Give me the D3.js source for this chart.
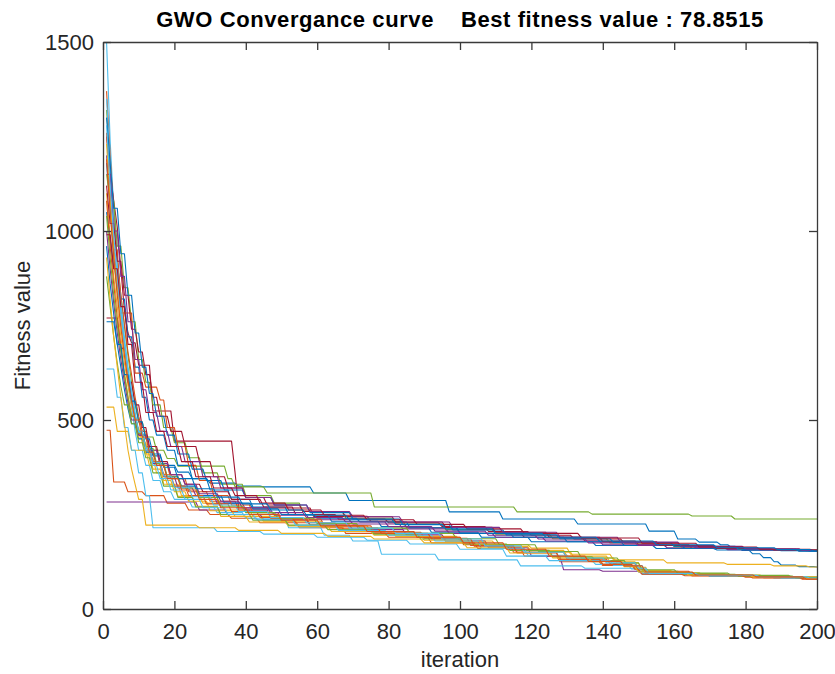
<!DOCTYPE html>
<html lang="en">
<head>
  <meta charset="UTF-8">
  <title>GWO Convergance curve</title>
  <script src="https://d3js.org/d3.v7.min.js"></script>
  <style>
    body { margin: 0; background: #fff; font-family: Arial, "Liberation Sans", sans-serif; }
    .tick-label { font-size: 22px; fill: #262626; }
    .axis-label { font-size: 22px; fill: #262626; }
    .title { font-size: 22px; font-weight: bold; fill: #000; white-space: pre; letter-spacing: 0.6px; }
    .run { fill: none; stroke-width: 1.1; stroke-linejoin: round; }
  </style>
</head>
<body>
  <svg id="chart" width="835" height="674"></svg>

  <script>
    // ---- data: best-so-far fitness per run, as [iteration, value] change points ----
    const run01 = [[1,1180],[2,1060],[3,930],[4,840],[5,770],[6,700],[7,630],[8,560],[9,510],[10,470],[12,430],[14,405],[17,380],[21,362],[25,345],[30,333],[38,325],[45,323],[59,307],[69,287],[97,257],[112,238],[133,225],[153,206],[161,185],[167,177],[173,170],[176,163],[179,155],[182,146],[185,136],[188,125],[190,116],[195,112],[200,111]];
    const run02 = [[1,473],[3,336],[7,310],[12,300],[18,280],[24,262],[30,250],[36,240],[44,228],[55,215],[68,200],[80,190],[92,175],[105,160],[118,140],[128,125],[140,115],[150,105],[152,95],[165,88],[185,83],[195,81]];
    const run03 = [[1,1100],[2,990],[3,880],[4,800],[5,720],[6,650],[7,590],[8,530],[9,480],[11,440],[13,400],[15,360],[18,330],[22,300],[28,280],[34,262],[42,245],[50,232],[62,220],[75,205],[88,192],[100,180],[110,170],[120,161],[131,145],[143,130],[158,122],[175,118],[188,114],[198,111]];
    const run04 = [[1,283],[27,262],[35,250],[45,236],[58,222],[70,210],[85,196],[96,180],[108,162],[120,140],[129,104],[140,100],[151,93],[165,89],[180,86],[195,84]];
    const run05 = [[1,1320],[2,1180],[3,1030],[4,920],[5,830],[6,750],[7,670],[8,600],[9,540],[10,495],[12,455],[15,420],[18,398],[21,378],[35,345],[37,323],[46,307],[76,270],[116,257],[137,251],[165,246],[177,238]];
    const run06 = [[1,1500],[2,1240],[3,1060],[4,920],[5,800],[6,700],[7,610],[8,540],[9,470],[10,420],[12,380],[14,340],[17,310],[20,290],[25,270],[32,255],[40,240],[52,215],[62,195],[70,180],[78,145],[94,130],[117,114],[135,108],[150,98],[152,92],[170,86],[188,82]];
    const run07 = [[1,1250],[2,1160],[3,1080],[4,1010],[5,900],[6,790],[7,730],[8,704],[10,645],[14,524],[20,444],[37,360],[38,267],[59,245],[75,232],[85,215],[100,200],[118,190],[135,180],[150,170],[165,160],[180,156],[195,154]];
    const run08 = [[1,1050],[2,980],[3,900],[5,820],[7,720],[9,640],[11,560],[13,500],[15,460],[18,420],[21,380],[25,345],[30,315],[36,290],[42,270],[52,250],[64,232],[78,218],[92,203],[106,190],[120,178],[138,168],[155,160],[172,156],[190,154]];
    const run09 = [[1,1370],[2,1200],[3,1050],[4,930],[5,830],[6,750],[7,680],[8,620],[9,560],[10,510],[11,470],[13,420],[16,380],[19,345],[24,310],[30,285],[38,262],[47,240],[58,222],[72,205],[88,190],[101,170],[115,150],[128,130],[140,118],[149,108],[152,94],[165,88],[182,82],[196,79]];
    const run10 = [[1,534],[4,470],[8,420],[13,380],[17,330],[21,298],[26,272],[33,245],[41,230],[52,220],[64,205],[76,195],[90,182],[104,170],[118,155],[130,140],[142,125],[150,110],[153,96],[168,90],[185,85]];
    const run11 = [[1,1200],[2,1080],[3,960],[4,860],[5,770],[6,690],[7,620],[8,560],[9,505],[10,460],[12,420],[14,385],[17,350],[21,320],[26,300],[32,280],[40,262],[48,248],[58,236],[70,225],[84,212],[97,200],[110,190],[124,180],[140,170],[158,162],[175,157],[192,155]];
    const run12 = [[1,1150],[2,1080],[4,960],[6,850],[8,760],[10,660],[12,600],[14,540],[17,480],[20,440],[24,400],[28,360],[33,330],[40,300],[48,280],[56,258],[68,240],[82,225],[96,210],[110,198],[126,186],[142,175],[160,165],[178,158],[194,156]];
    const run13 = [[1,635],[4,560],[6,480],[8,420],[10,360],[12,300],[14,215],[32,205],[45,198],[60,190],[74,182],[86,172],[100,158],[113,140],[125,128],[138,118],[148,106],[151,93],[170,87],[190,82]];
    const run14 = [[1,770],[5,690],[7,600],[9,540],[11,480],[13,430],[16,390],[19,355],[23,330],[28,310],[36,290],[45,270],[54,250],[66,238],[80,228],[95,218],[108,205],[120,195],[132,185],[146,175],[162,165],[180,158],[196,155]];
    const run15 = [[1,960],[2,860],[3,780],[4,700],[5,640],[6,580],[7,530],[8,490],[10,450],[12,415],[15,380],[18,350],[22,325],[27,300],[34,280],[42,265],[50,250],[60,240],[72,230],[86,215],[100,200],[115,190],[130,178],[146,168],[163,160],[180,156],[198,153]];
    const run16 = [[1,1260],[2,1100],[3,950],[5,783],[9,624],[12,587],[16,553],[18,480],[21,430],[24,380],[27,340],[31,300],[36,275],[42,255],[50,238],[62,220],[76,203],[90,187],[103,168],[116,150],[130,132],[142,120],[150,100],[165,91],[180,86],[196,82]];
    const run17 = [[1,1230],[2,1080],[3,950],[4,850],[5,760],[6,680],[7,610],[8,550],[9,500],[10,455],[12,410],[14,370],[17,340],[20,310],[24,285],[30,260],[37,245],[45,232],[55,218],[68,205],[82,192],[96,178],[108,165],[120,150],[132,135],[144,122],[151,102],[160,94],[175,88],[192,84]];
    const run18 = [[1,1000],[2,900],[3,810],[4,730],[5,660],[6,600],[7,545],[8,500],[10,460],[13,420],[16,385],[19,355],[23,330],[27,305],[33,285],[39,268],[47,255],[57,242],[68,230],[80,218],[93,206],[108,195],[122,185],[136,175],[150,168],[166,162],[184,157],[197,154]];
    const run19 = [[1,880],[2,800],[3,720],[4,650],[5,590],[6,540],[8,490],[10,440],[12,400],[14,360],[17,325],[21,295],[26,270],[33,250],[42,235],[52,222],[63,210],[76,198],[89,185],[101,172],[114,155],[126,138],[138,128],[147,114],[150,100],[162,92],[178,87],[194,83]];
    const run20 = [[1,1350],[2,1180],[3,1030],[4,910],[5,810],[6,720],[7,640],[8,580],[9,520],[10,470],[12,420],[14,380],[16,345],[19,315],[23,290],[28,268],[35,250],[43,236],[54,222],[66,208],[80,195],[93,180],[106,160],[119,142],[131,128],[143,115],[152,96],[166,89],[183,84],[197,80]];
    const run21 = [[1,1120],[2,1020],[4,920],[6,830],[8,740],[10,680],[12,620],[14,560],[16,510],[19,470],[23,430],[27,390],[31,350],[35,320],[40,295],[46,275],[56,258],[68,244],[82,230],[96,216],[110,203],[125,190],[140,178],[156,168],[172,160],[188,156]];
    const run22 = [[1,1300],[2,1180],[3,1060],[5,940],[7,830],[9,730],[11,640],[13,570],[15,510],[18,460],[21,410],[25,370],[29,340],[34,315],[40,295],[48,275],[58,255],[70,238],[84,223],[98,209],[113,196],[128,186],[143,176],[160,166],[178,158],[195,153]];
    const run23 = [[1,1080],[2,960],[3,860],[4,770],[5,690],[6,620],[7,560],[8,510],[10,465],[12,425],[14,390],[17,355],[20,325],[24,300],[29,278],[36,258],[44,242],[54,228],[66,214],[78,200],[92,186],[104,166],[116,148],[128,132],[140,118],[149,105],[151,92],[163,88],[180,84],[196,80]];
    const run24 = [[1,930],[2,820],[3,720],[4,640],[5,560],[6,490],[7,420],[8,370],[9,330],[10,290],[12,222],[27,215],[38,208],[50,200],[63,192],[76,185],[90,175],[102,162],[114,148],[126,135],[137,125],[146,112],[150,98],[164,90],[182,85],[197,81]];
    const run25 = [[1,1150],[3,1000],[5,880],[7,760],[9,660],[11,580],[13,520],[16,470],[19,430],[23,390],[28,350],[33,320],[40,295],[48,275],[58,258],[70,244],[84,230],[98,216],[112,203],[128,190],[145,177],[162,166],[180,159],[196,155]];
    const run26 = [[1,1040],[2,930],[3,830],[4,750],[5,680],[6,620],[7,560],[8,510],[10,465],[12,425],[15,385],[18,350],[22,320],[27,295],[33,272],[40,255],[49,240],[60,226],[72,214],[86,200],[99,186],[111,170],[122,152],[134,135],[145,122],[151,104],[161,95],[176,89],[193,84]];
    const run27 = [[1,1280],[2,1120],[3,990],[4,880],[5,780],[6,700],[7,630],[8,570],[9,515],[10,468],[12,425],[14,388],[17,352],[20,322],[25,297],[31,275],[38,258],[47,242],[57,228],[69,214],[82,200],[95,185],[107,167],[118,150],[130,135],[141,122],[150,108],[153,94],[167,89],[184,85],[198,82]];
    const run28 = [[1,990],[3,900],[5,800],[7,700],[9,600],[12,520],[15,470],[18,430],[22,390],[26,350],[31,320],[37,300],[44,280],[52,262],[62,248],[74,236],[88,224],[102,212],[118,200],[134,188],[151,174],[167,164],[184,158],[199,155]];
    const run29 = [[1,760],[4,700],[6,620],[8,550],[10,495],[12,450],[14,410],[17,375],[21,345],[26,318],[32,296],[39,278],[47,262],[57,248],[69,236],[82,224],[96,212],[110,200],[124,190],[139,180],[155,170],[172,162],[189,157],[199,154]];
    const run30 = [[1,1190],[2,1050],[3,930],[4,830],[5,745],[6,670],[7,605],[8,550],[9,500],[11,455],[13,415],[15,380],[18,345],[22,315],[27,290],[33,268],[41,250],[50,235],[61,220],[74,205],[88,190],[101,175],[113,158],[125,140],[136,126],[146,114],[152,98],[166,90],[183,85],[197,79]];

    const runs = [run01, run02, run03, run04, run05, run06, run07, run08, run09, run10,
                  run11, run12, run13, run14, run15, run16, run17, run18, run19, run20,
                  run21, run22, run23, run24, run25, run26, run27, run28, run29, run30];

    // MATLAB default line color order
    const lineColors = ["#0072BD", "#D95319", "#EDB120", "#7E2F8E", "#77AC30", "#4DBEEE", "#A2142F"];

    const xTicks = [0, 20, 40, 60, 80, 100, 120, 140, 160, 180, 200];
    const yTicks = [0, 500, 1000, 1500];
    const xDomain = [0, 200];
    const yDomain = [0, 1500];
    const bestFitness = "78.8515";

    // ---- layout ----
    const svg = d3.select("#chart");
    const plot = { left: 103, right: 817, top: 42, bottom: 609 };

    const x = d3.scaleLinear().domain(xDomain).range([plot.left, plot.right]);
    const y = d3.scaleLinear().domain(yDomain).range([plot.bottom, plot.top]);

    svg.append("clipPath").attr("id", "plot-clip")
      .append("rect")
      .attr("x", plot.left).attr("y", plot.top)
      .attr("width", plot.right - plot.left).attr("height", plot.bottom - plot.top);

    // MATLAB joins successive iterations with straight segments, so a drop
    // between two change points spans one iteration
    function toPolyline(run) {
      const pts = [];
      run.forEach(([it, v], k) => {
        if (k > 0) {
          const prev = run[k - 1];
          if (it - 1 > prev[0]) pts.push([it - 1, prev[1]]);
        }
        pts.push([it, v]);
      });
      const last = run[run.length - 1];
      if (last[0] < xDomain[1]) pts.push([xDomain[1], last[1]]);
      return pts;
    }

    const line = d3.line().x(d => x(d[0])).y(d => y(d[1]));

    svg.append("g")
      .attr("clip-path", "url(#plot-clip)")
      .selectAll("path")
      .data(runs)
      .enter().append("path")
      .attr("class", "run")
      .attr("stroke", (d, i) => lineColors[i % lineColors.length])
      .attr("d", d => line(toPolyline(d)));

    // ---- box axes with inward ticks (all four sides) ----
    const axisColor = "#3a3a3a";
    const tickLen = 8;

    const bottomAxis = d3.axisBottom(x).tickValues(xTicks).tickSizeInner(-tickLen).tickSizeOuter(0).tickFormat(d3.format("d")).tickPadding(14);
    const topAxis = d3.axisTop(x).tickValues(xTicks).tickSizeInner(-tickLen).tickSizeOuter(0).tickFormat("");
    const leftAxis = d3.axisLeft(y).tickValues(yTicks).tickSizeInner(-tickLen).tickSizeOuter(0).tickFormat(d3.format("d")).tickPadding(9);
    const rightAxis = d3.axisRight(y).tickValues(yTicks).tickSizeInner(-tickLen).tickSizeOuter(0).tickFormat("");

    function styleAxis(g) {
      g.select(".domain").attr("stroke", axisColor).attr("stroke-width", 1.3);
      g.selectAll(".tick line").attr("stroke", axisColor).attr("stroke-width", 1.3);
      g.selectAll(".tick text").attr("class", "tick-label").attr("fill", "#262626");
      g.attr("font-family", null).attr("font-size", null);
    }

    svg.append("g").attr("transform", `translate(0,${plot.bottom})`).call(bottomAxis).call(styleAxis);
    svg.append("g").attr("transform", `translate(0,${plot.top})`).call(topAxis).call(styleAxis);
    svg.append("g").attr("transform", `translate(${plot.left},0)`).call(leftAxis).call(styleAxis);
    svg.append("g").attr("transform", `translate(${plot.right},0)`).call(rightAxis).call(styleAxis);

    // ---- labels ----
    svg.append("text")
      .attr("class", "title")
      .attr("x", (plot.left + plot.right) / 2)
      .attr("y", 27)
      .attr("text-anchor", "middle")
      .text(`GWO Convergance curve    Best fitness value : ${bestFitness}`);

    svg.append("text")
      .attr("class", "axis-label")
      .attr("x", (plot.left + plot.right) / 2)
      .attr("y", 667)
      .attr("text-anchor", "middle")
      .text("iteration");

    svg.append("text")
      .attr("class", "axis-label")
      .attr("transform", `translate(30,${(plot.top + plot.bottom) / 2}) rotate(-90)`)
      .attr("text-anchor", "middle")
      .text("Fitness value");
  </script>
</body>
</html>
